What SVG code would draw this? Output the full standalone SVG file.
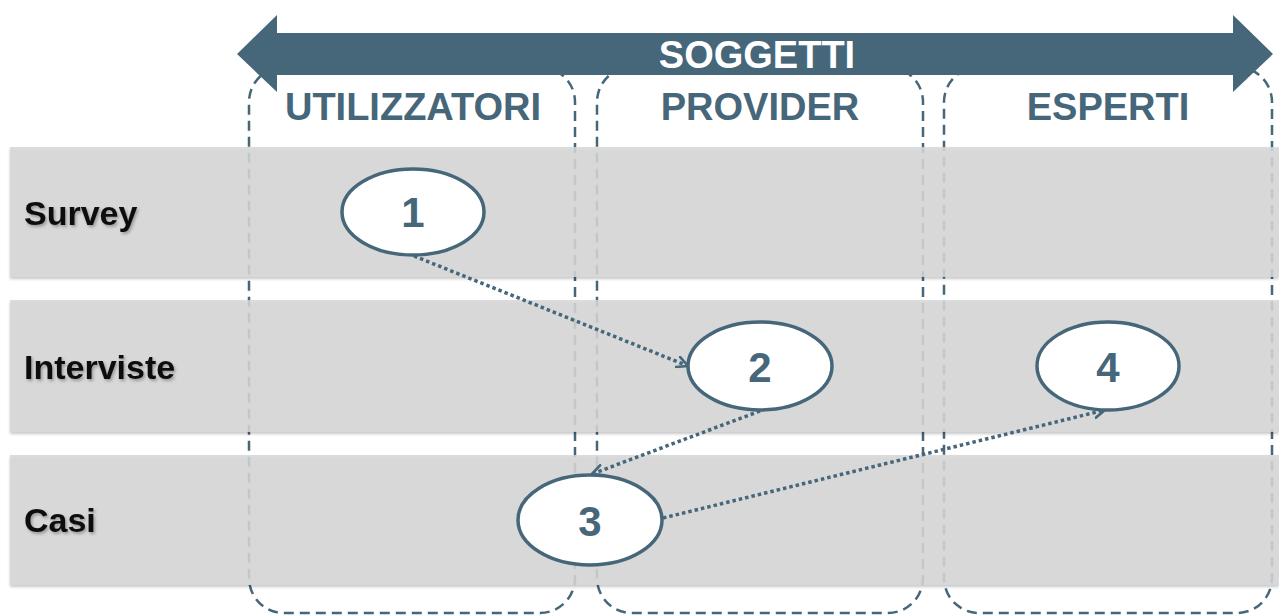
<svg xmlns="http://www.w3.org/2000/svg" width="1279" height="615" viewBox="0 0 1279 615">
  <defs>
    <style>
      .col { fill: none; stroke: #46667a; stroke-width: 2.5; stroke-dasharray: 10 6; }
      .band { fill: #d6d6d6; fill-opacity: 0.86; filter: url(#bandShadow); }
      .head { font-family: "Liberation Sans", Arial, sans-serif; font-weight: bold; font-size: 38px; fill: #46667a; text-anchor: middle; }
      .row { font-family: "Liberation Sans", Arial, sans-serif; font-weight: bold; font-size: 34px; fill: #111; filter: url(#textShadow); }
      .node ellipse { fill: #fff; stroke: #46667a; stroke-width: 3.5; }
      .node text { font-family: "Liberation Sans", Arial, sans-serif; font-weight: bold; font-size: 42px; fill: #46667a; text-anchor: middle; }
      .link { fill: none; stroke: #46667a; stroke-width: 3.5; stroke-dasharray: 3.5 3; marker-end: url(#chev); }
    </style>
    <filter id="bandShadow" x="-5%" y="-10%" width="110%" height="130%">
      <feDropShadow dx="0" dy="2" stdDeviation="1.5" flood-color="#000" flood-opacity="0.25"/>
    </filter>
    <filter id="textShadow" x="-10%" y="-20%" width="130%" height="150%">
      <feDropShadow dx="1.5" dy="2" stdDeviation="1.8" flood-color="#000" flood-opacity="0.3"/>
    </filter>
    <marker id="chev" viewBox="0 0 12 12" refX="11" refY="6" markerWidth="13" markerHeight="13" markerUnits="userSpaceOnUse" orient="auto">
      <path d="M1,1 L11,6 L1,11" fill="none" stroke="#46667a" stroke-width="2.4" stroke-linecap="round" stroke-linejoin="round"/>
    </marker>
  </defs>

  <rect width="1279" height="615" fill="#fff"/>

  <!-- column frames -->
  <g id="columns">
    <rect class="col" x="249" y="67" width="326" height="546" rx="35"/>
    <rect class="col" x="597" y="67" width="326" height="546" rx="35"/>
    <rect class="col" x="944" y="67" width="328" height="546" rx="35"/>
  </g>

  <!-- row bands -->
  <g id="rows">
    <rect class="band" x="10" y="147" width="1269" height="130"/>
    <rect class="band" x="10" y="300" width="1269" height="132"/>
    <rect class="band" x="10" y="455" width="1269" height="130"/>
  </g>

  <!-- double-headed header arrow -->
  <g id="soggetti">
    <path d="M237,54 L277,15 L277,33 L1233,33 L1233,15 L1273,54 L1233,92 L1233,75 L277,75 L277,92 Z" fill="#46667a"/>
    <text x="757" y="68" font-family="Liberation Sans, Arial, sans-serif" font-weight="bold" font-size="38" fill="#fff" text-anchor="middle">SOGGETTI</text>
  </g>

  <g id="headers">
    <text class="head" x="413" y="120">UTILIZZATORI</text>
    <text class="head" x="760" y="120">PROVIDER</text>
    <text class="head" x="1108" y="120">ESPERTI</text>
  </g>

  <g id="row-labels">
    <text class="row" x="24" y="225">Survey</text>
    <text class="row" x="24" y="379">Interviste</text>
    <text class="row" x="24" y="532">Casi</text>
  </g>

  <!-- connectors -->
  <g id="connectors">
    <path class="link" d="M414,256 L688,366"/>
    <path class="link" d="M760,411 L592,474"/>
    <path class="link" d="M663,518 L1105,410"/>
  </g>

  <g id="node1" class="node">
    <ellipse cx="413" cy="212" rx="71" ry="43"/>
    <text x="413" y="227">1</text>
  </g>
  <g id="node2" class="node">
    <ellipse cx="760" cy="366" rx="72" ry="44"/>
    <text x="760" y="382">2</text>
  </g>
  <g id="node3" class="node">
    <ellipse cx="590" cy="520" rx="72" ry="45"/>
    <text x="590" y="536">3</text>
  </g>
  <g id="node4" class="node">
    <ellipse cx="1108" cy="366" rx="71" ry="44"/>
    <text x="1108" y="382">4</text>
  </g>
</svg>
